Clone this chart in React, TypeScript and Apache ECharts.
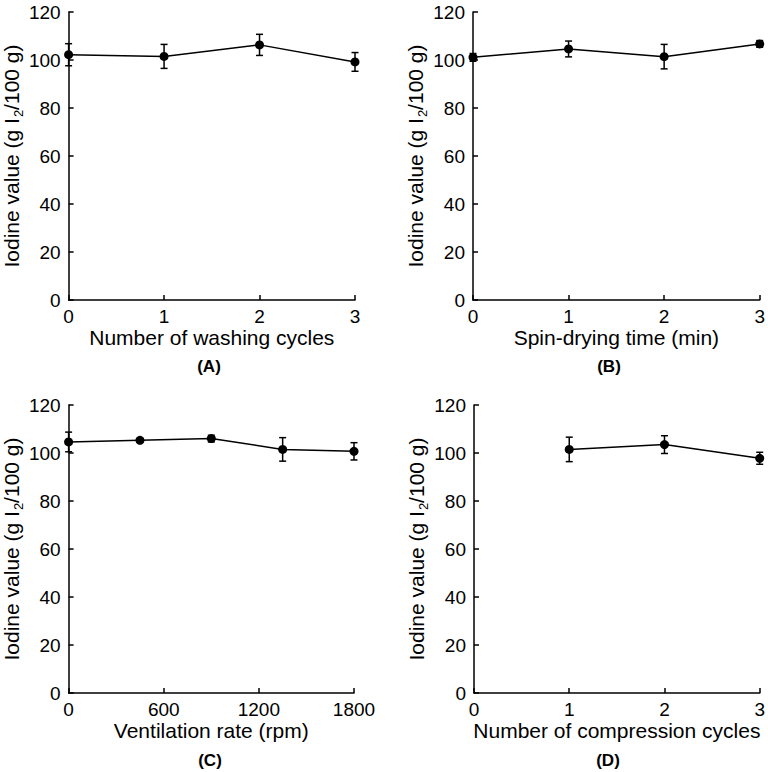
import React, { useEffect, useRef } from "react";
import * as echarts from "echarts";

// Panel A: washing cycles
const xA = [0, 1, 2, 3];
const yA = [102.2, 101.5, 106.3, 99.2];
const eA = [4.6, 5.0, 4.4, 3.9];
// Panel B: spin-drying time
const xB = [0, 1, 2, 3];
const yB = [101.1, 104.6, 101.4, 106.7];
const eB = [1.6, 3.3, 5.1, 1.4];
// Panel C: ventilation rate
const xC = [0, 450, 900, 1350, 1800];
const yC = [104.6, 105.3, 106.0, 101.5, 100.7];
const eC = [4.1, 0.8, 1.4, 4.9, 3.6];
// Panel D: compression cycles
const xD = [1, 2, 3];
const yD = [101.5, 103.5, 97.8];
const eD = [5.1, 3.7, 2.5];

const xNames = [
  "Number of washing cycles",
  "Spin-drying time (min)",
  "Ventilation rate (rpm)",
  "Number of compression cycles",
];
const panelLabels = ["(A)", "(B)", "(C)", "(D)"];
const xMax = [3, 3, 1800, 3];
const xInterval = [1, 1, 600, 1];

const FONT = "Liberation Sans, Arial, sans-serif";

export default function App() {
  const ref = useRef<HTMLDivElement>(null);
  useEffect(() => {
    document.body.style.margin = "0";
    const chart = echarts.init(ref.current!, undefined, { renderer: "svg" });
    const grids = [
      { left: 68, top: 12, width: 287, height: 288 },
      { left: 473, top: 12, width: 288, height: 288 },
      { left: 68, top: 405, width: 286, height: 288 },
      { left: 474, top: 405, width: 287, height: 288 },
    ];
    const xs = [xA, xB, xC, xD];
    const ys = [yA, yB, yC, yD];
    const es = [eA, eB, eC, eD];

    const axisCommon = {
      axisLine: { show: true, lineStyle: { color: "#000", width: 1.5 } },
      axisTick: { show: true, inside: true, length: 5, lineStyle: { color: "#000", width: 1.5 } },
      splitLine: { show: false },
    };

    const xAxis = grids.map((_, i) => ({
      type: "value",
      gridIndex: i,
      min: 0,
      max: xMax[i],
      interval: xInterval[i],
      name: xNames[i],
      nameLocation: "middle",
      nameGap: 25,
      nameTextStyle: { fontSize: 21, color: "#000", fontFamily: FONT },
      axisLabel: {
        fontSize: 19,
        color: "#000",
        fontFamily: FONT,
        margin: 7,
        formatter: (v: number) => String(v),
      },
      ...axisCommon,
    }));
    const yAxis = grids.map((_, i) => ({
      type: "value",
      gridIndex: i,
      min: 0,
      max: 120,
      interval: 20,
      name: "{n|Iodine value (g I}{s|2}{n|/100 g)}",
      nameLocation: "middle",
      nameGap: 44,
      nameTextStyle: {
        color: "#000",
        fontFamily: FONT,
        fontSize: 21,
        rich: {
          n: { fontSize: 21, lineHeight: 21, color: "#000", fontFamily: FONT, verticalAlign: "top" },
          s: {
            fontSize: 13,
            lineHeight: 13,
            color: "#000",
            fontFamily: FONT,
            verticalAlign: "top",
            padding: [11, 0, 0, 1],
          },
        },
      },
      axisLabel: { fontSize: 19, color: "#000", fontFamily: FONT, margin: 8 },
      ...axisCommon,
    }));

    const series: any[] = [];
    grids.forEach((_, i) => {
      series.push({
        type: "line",
        xAxisIndex: i,
        yAxisIndex: i,
        data: xs[i].map((x, j) => [x, ys[i][j]]),
        symbol: "circle",
        symbolSize: 9,
        lineStyle: { color: "#000", width: 1.5 },
        itemStyle: { color: "#000" },
        z: 3,
      });
      series.push({
        type: "custom",
        xAxisIndex: i,
        yAxisIndex: i,
        data: xs[i].map((x, j) => [x, ys[i][j], es[i][j]]),
        encode: { x: 0, y: 1 },
        renderItem: (params: any, api: any) => {
          const x = api.value(0);
          const y = api.value(1);
          const e = api.value(2);
          const top = api.coord([x, y + e]);
          const bot = api.coord([x, y - e]);
          const hw = 3.5;
          const st = { stroke: "#000", lineWidth: 1.5 };
          return {
            type: "group",
            children: [
              { type: "line", shape: { x1: top[0], y1: top[1], x2: bot[0], y2: bot[1] }, style: st },
              { type: "line", shape: { x1: top[0] - hw, y1: top[1], x2: top[0] + hw, y2: top[1] }, style: st },
              { type: "line", shape: { x1: bot[0] - hw, y1: bot[1], x2: bot[0] + hw, y2: bot[1] }, style: st },
            ],
          };
        },
        z: 2,
      });
    });

    const labelPos = [
      [209, 366],
      [609, 366],
      [210, 760],
      [608, 760],
    ];
    const graphic = panelLabels.map((t, i) => ({
      type: "text",
      x: labelPos[i][0],
      y: labelPos[i][1],
      style: {
        text: t,
        fontSize: 17,
        fontWeight: "bold",
        fontFamily: FONT,
        fill: "#000",
        align: "center",
        verticalAlign: "middle",
      },
    }));

    chart.setOption({
      animation: false,
      backgroundColor: "#fff",
      grid: grids,
      xAxis,
      yAxis,
      series,
      graphic,
    });
    return () => chart.dispose();
  }, []);
  return <div ref={ref} style={{ width: 768, height: 772 }} />;
}
